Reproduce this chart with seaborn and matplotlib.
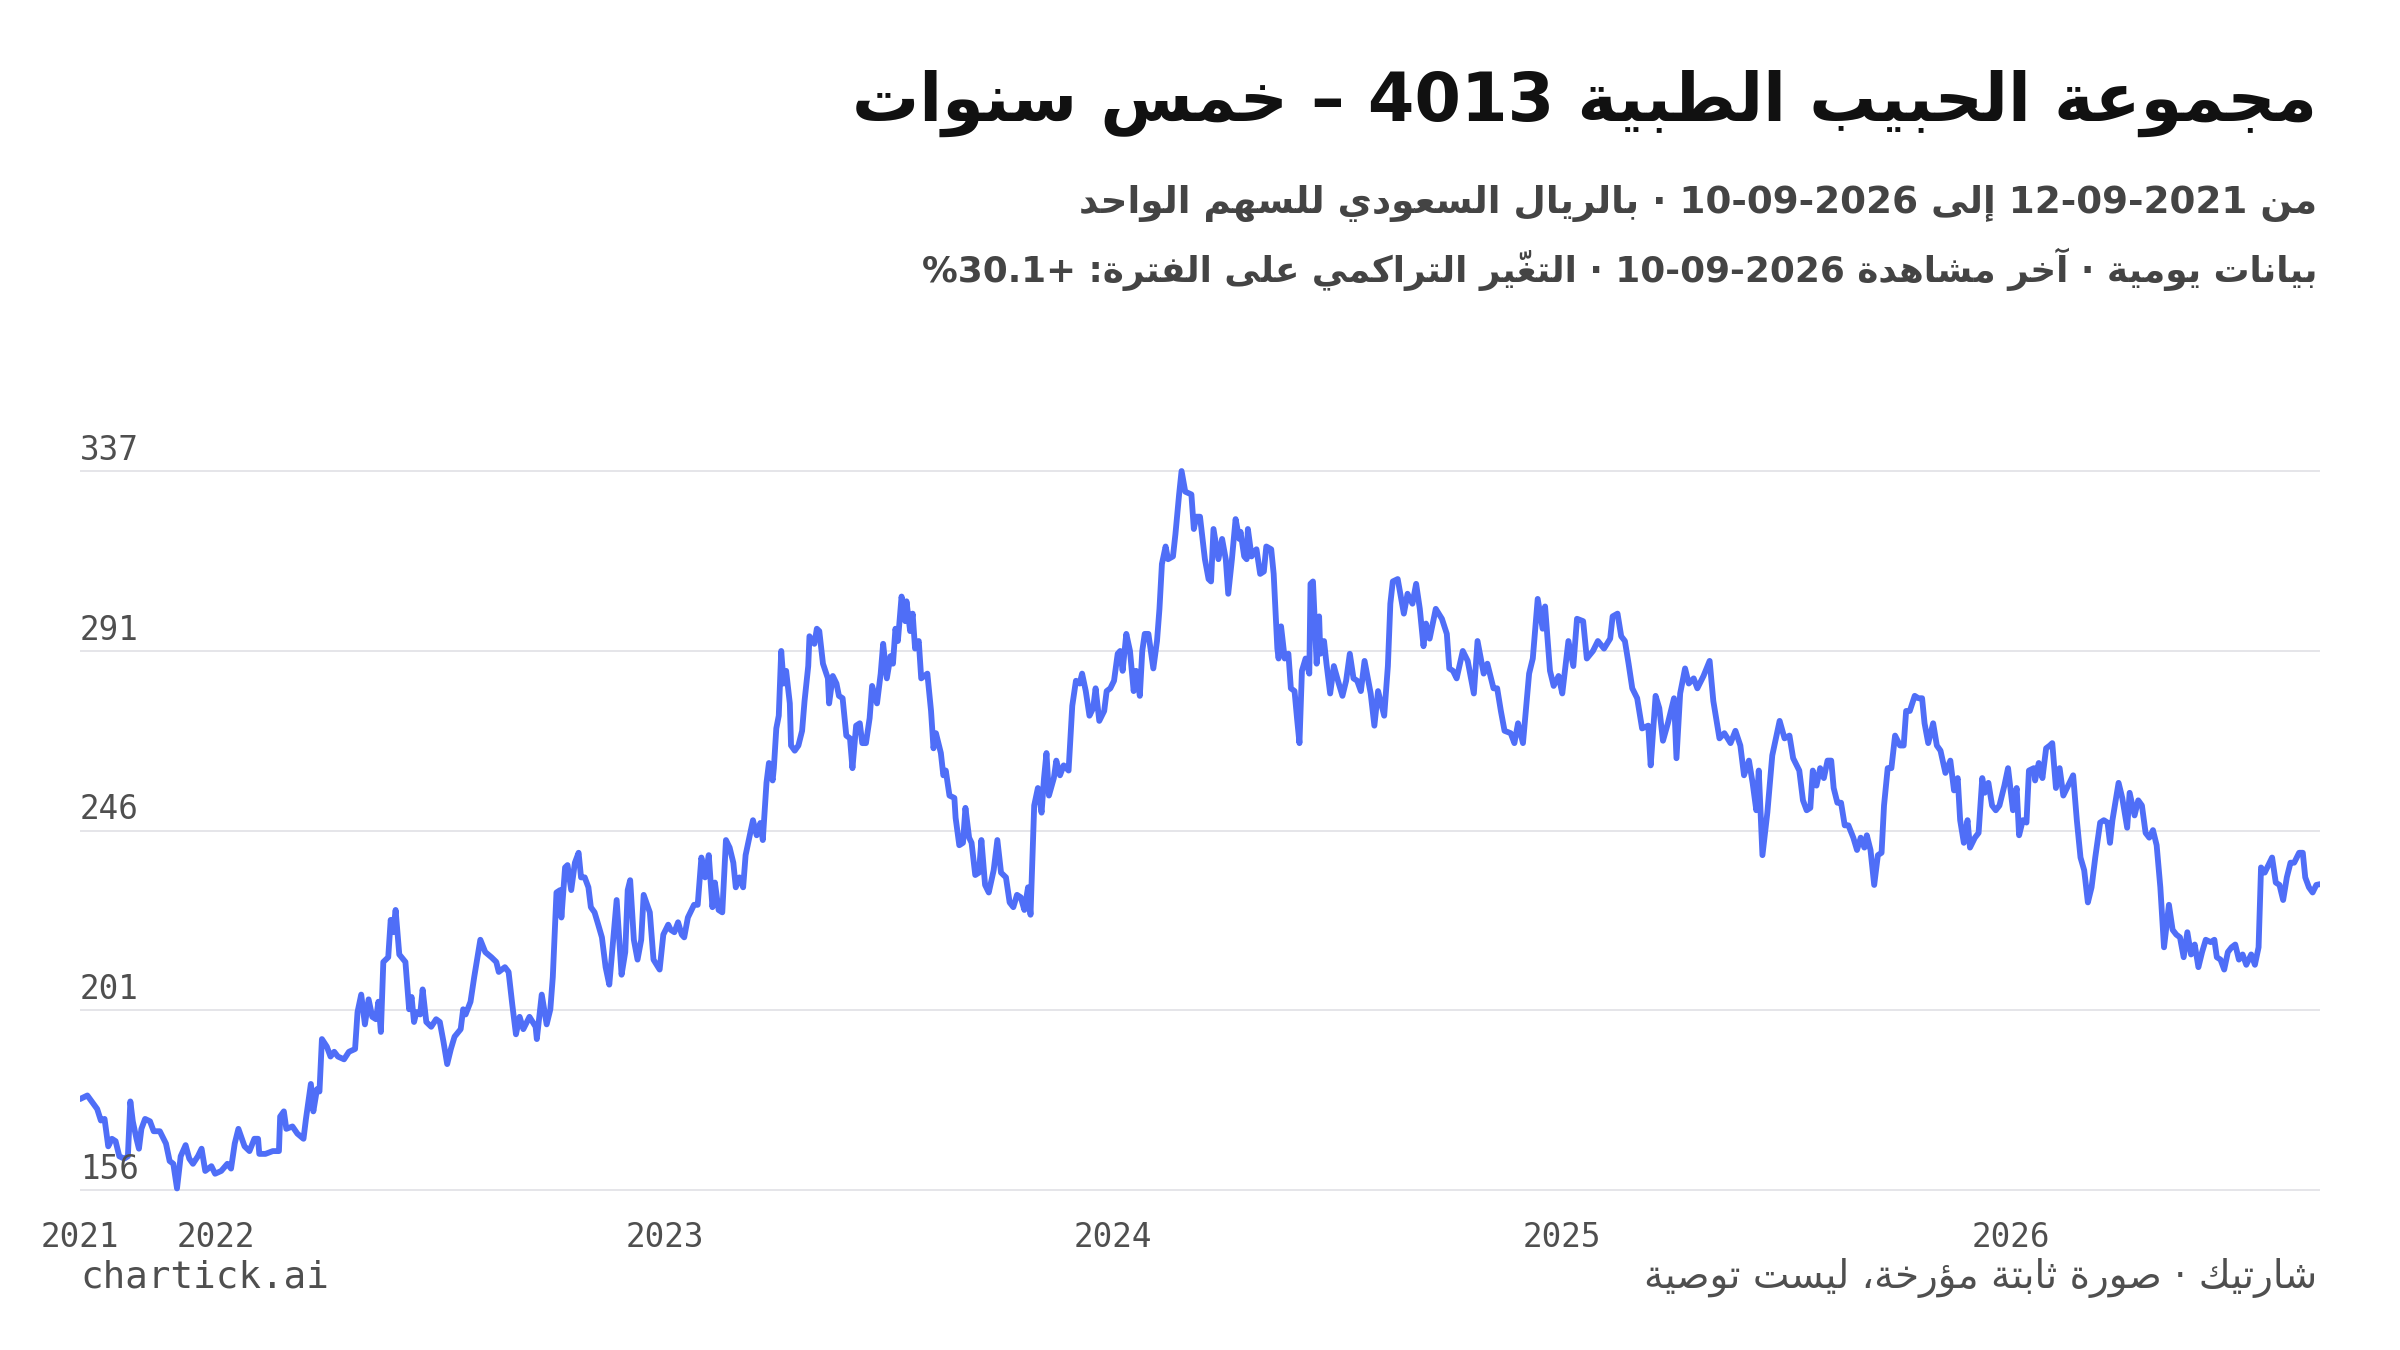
import numpy as np
import pandas as pd
import seaborn as sns
import matplotlib.pyplot as plt

# --- data (days after 2021-09-12, close in SAR) ---
start_date = "2021-09-12"
end_date = "2026-09-10"

day_offsets = [
    0, 6, 11, 14, 17, 20, 23, 26, 29, 32, 36, 39, 41, 43, 46, 48, 50, 53, 57, 60,
    65, 70, 73, 76, 79, 82, 86, 89, 92, 96, 99, 102, 107, 110, 115, 120, 123, 126, 129, 134,
    138, 142, 145, 146, 151, 157, 162, 163, 166, 168, 173, 177, 182, 184, 188, 190, 193, 195, 197, 201,
    204, 207, 210, 215, 219, 224, 226, 229, 232, 235, 238, 241, 243, 245, 247, 251, 253, 255, 257, 260,
    265, 268, 270, 272, 274, 277, 279, 282, 286, 290, 293, 296, 299, 302, 305, 310, 312, 314, 318, 321,
    326, 330, 335, 339, 341, 346, 349, 352, 355, 358, 361, 366, 371, 372, 376, 380, 383, 385, 388, 391,
    392, 395, 397, 400, 403, 406, 408, 411, 414, 416, 419, 422, 425, 428, 431, 434, 437, 441, 444, 446,
    448, 451, 454, 457, 459, 464, 467, 472, 475, 479,
    481, 484, 487, 490, 492, 495, 500, 503, 506, 509, 512, 515, 517, 520, 523, 526, 529, 532, 534, 537,
    540, 542, 545, 548, 551, 554, 556, 559, 561, 564, 565, 567, 569, 571, 573, 575, 578, 579, 582, 585,
    588, 590, 593, 594, 598, 600, 602, 605, 609, 610, 613, 616, 618, 621, 624, 627, 629, 632, 635, 637,
    640, 643, 645, 649, 652, 654, 657, 660, 662, 664, 666, 669, 672, 673, 676, 678, 680, 683, 685, 690,
    693, 695, 697, 701, 703, 705, 708, 712, 713, 716, 719, 721, 724, 726, 729, 732, 734, 737, 740, 744,
    747, 750, 754, 757, 760, 763, 766, 769, 772, 774, 777, 780, 783, 785, 787, 789, 793, 795, 798, 801,
    805, 808, 811, 814, 816, 819, 822, 825, 827, 830, 834, 836, 839, 842, 845, 847, 849, 852, 855, 858,
    860, 863, 865, 867, 870, 874, 877, 879, 881, 884, 886, 890, 892, 895, 897, 900, 905, 907, 909, 912,
    916, 919, 921, 923, 927, 930, 933, 935, 938, 941, 944,
    945, 948, 950, 951, 954, 956, 958, 961, 964, 966, 970, 972, 975, 976, 978, 981, 984, 986, 989, 991,
    993, 995, 998, 1001, 1002, 1004, 1007, 1009, 1010, 1013, 1015, 1018, 1021, 1025, 1028, 1031, 1034, 1037, 1040, 1043,
    1046, 1051, 1054, 1057, 1062, 1065, 1067, 1069, 1073, 1078, 1081, 1085, 1088, 1091, 1094, 1096, 1099, 1104, 1109, 1113,
    1115, 1118, 1121, 1126, 1130, 1135, 1138, 1143, 1146, 1151, 1154, 1157, 1160, 1165, 1168, 1171, 1175, 1177, 1180, 1183,
    1187, 1191, 1193, 1197, 1200, 1204, 1207, 1212, 1216, 1219, 1224, 1227, 1232, 1236, 1241, 1246, 1248, 1252, 1255, 1258,
    1261, 1264, 1268, 1272, 1277, 1279, 1283, 1286, 1289, 1293, 1298, 1300, 1303, 1307, 1310, 1314, 1317, 1322, 1327, 1330,
    1335, 1339, 1344, 1348, 1352, 1355, 1359, 1362, 1365, 1367, 1370, 1374, 1378, 1381, 1384, 1388, 1392, 1395, 1400, 1403,
    1406,
    1409, 1411, 1414, 1417, 1420, 1423, 1426, 1428, 1431, 1434, 1437, 1440, 1444, 1447, 1450, 1453, 1455, 1458, 1461, 1464,
    1467, 1469, 1472, 1475, 1478, 1482, 1485, 1487, 1490, 1494, 1497, 1500, 1502, 1505, 1509, 1512, 1515, 1519, 1523, 1526,
    1529, 1531, 1534, 1537, 1539, 1543, 1546, 1549, 1551, 1554, 1557, 1560, 1563, 1567, 1570, 1573, 1574, 1577, 1579, 1582,
    1585, 1587, 1591, 1592, 1595, 1598, 1601, 1604, 1606, 1609, 1612, 1615, 1618, 1623, 1626, 1629, 1632, 1635, 1638, 1641,
    1645, 1648, 1651, 1653, 1655, 1658, 1660, 1663, 1667, 1669, 1673, 1676, 1679, 1682, 1685, 1688, 1691, 1694, 1697, 1701,
    1704, 1707, 1710, 1713, 1716, 1719, 1722, 1725, 1728, 1731, 1735, 1738, 1740, 1743, 1746, 1749, 1752, 1755, 1758, 1761,
    1764, 1768, 1771, 1774, 1776, 1779, 1783, 1785, 1788, 1791, 1794, 1797, 1800, 1803, 1807, 1810, 1812, 1815, 1818, 1821,
    1824,
]

close_sar = [
    178.9, 179.8, 177.7, 176.4, 173.5, 173.9, 167.0, 168.9, 168.3, 164.5, 163.9, 164.5, 178.3, 173.3, 168.9, 166.4, 171.4, 173.9, 173.3, 170.8,
    170.8, 167.7, 163.3, 162.6, 156.4, 164.5, 167.3, 163.9, 162.6, 164.5, 166.4, 160.8, 162.0, 160.1, 160.8, 162.6, 161.4, 167.7, 171.4, 167.0,
    165.8, 168.9, 168.9, 165.1, 165.1, 165.8, 165.8, 174.5, 175.8, 171.4, 172.0, 170.2, 168.9, 173.9, 182.7, 175.8, 181.4, 180.8, 194.0, 192.1,
    189.6, 190.8, 189.6, 188.9, 190.8, 191.5, 200.8, 205.2, 197.7, 204.0, 199.6, 199.0, 203.4, 195.8, 213.4, 214.6, 224.0, 220.9, 226.5, 215.3,
    213.4, 201.5, 204.6, 198.3, 200.8, 200.2, 206.5, 198.3, 197.1, 199.0, 198.3, 193.3, 187.7, 191.5, 194.6, 196.5, 201.5, 200.2, 203.4, 209.6,
    219.0, 215.9, 214.6, 213.4, 210.9, 212.1, 210.9, 202.7, 195.2, 199.6, 196.5, 199.6, 197.1, 194.0, 205.2, 197.7, 201.5, 209.6, 230.9, 231.5,
    224.6, 237.2, 237.8, 231.5, 238.4, 240.9, 234.7, 234.7, 232.2, 227.2, 225.9, 222.8, 219.6, 212.1, 207.7, 218.4, 229.0, 210.2, 215.9, 231.5,
    234.0, 219.0, 214.0, 219.0, 230.3, 225.9, 214.0, 211.5, 220.3, 222.8,
    221.5, 220.9, 223.4, 220.3, 219.6, 224.6, 227.8, 227.8, 239.7, 234.7, 240.3, 227.2, 233.4, 226.5, 225.9, 244.1, 242.2, 238.4, 232.2, 234.7,
    232.2, 240.3, 244.7, 249.1, 245.3, 248.4, 244.1, 258.5, 263.5, 259.1, 262.2, 272.2, 275.4, 291.7, 283.5, 286.7, 278.5, 267.9, 266.6, 267.9,
    271.6, 279.1, 287.9, 295.4, 293.5, 297.3, 296.7, 288.5, 284.8, 278.5, 285.4, 283.5, 280.4, 279.8, 270.4, 269.7, 262.2, 272.9, 273.5, 268.5,
    268.5, 274.8, 282.9, 278.5, 286.0, 293.5, 284.8, 290.4, 288.5, 297.3, 294.2, 305.4, 299.2, 304.2, 296.7, 301.1, 292.3, 294.2, 284.8, 286.0,
    276.6, 267.2, 271.0, 266.0, 260.4, 261.6, 255.3, 254.7, 249.7, 242.8, 243.4, 252.2, 244.7, 243.4, 235.3, 235.9, 244.1, 232.8, 230.9, 236.5,
    244.1, 235.9, 234.7, 228.4, 227.2, 230.3, 229.7, 226.5, 232.2, 225.3, 252.8, 257.2, 251.0, 259.7, 266.0, 255.3, 259.7, 264.1, 260.4, 262.9,
    261.6, 277.9, 284.2, 283.5, 286.0, 281.6, 275.4, 277.3, 282.3, 274.1, 276.6, 281.6, 282.3, 284.2, 291.0, 291.7, 286.7, 296.0, 291.7, 281.6,
    286.7, 280.4, 291.7, 296.0, 296.0, 287.3, 294.2, 302.3, 313.6, 318.0, 314.8, 315.5, 321.1, 331.1, 337.0, 331.8, 331.1, 322.4, 325.5, 325.5,
    314.8, 309.8, 309.2, 322.4, 314.8, 319.9, 314.8, 306.1, 314.8, 324.9, 319.9,
    321.7, 315.5, 314.8, 322.4, 315.5, 316.7, 317.3, 311.1, 311.7, 318.0, 317.3, 311.1, 292.3, 289.8, 297.9, 289.8, 291.0, 282.3, 281.6, 274.8,
    268.5, 286.7, 289.8, 286.0, 308.6, 309.2, 288.5, 300.4, 291.0, 294.2, 288.5, 281.0, 287.9, 283.5, 280.4, 284.2, 291.0, 284.8, 284.2, 281.6,
    289.2, 281.0, 272.9, 281.6, 275.4, 287.9, 303.6, 309.2, 309.8, 301.1, 306.1, 303.6, 308.6, 302.3, 292.9, 298.6, 294.8, 302.3, 299.8, 296.0,
    287.3, 286.7, 284.8, 291.7, 289.2, 281.0, 294.2, 286.0, 288.5, 282.3, 282.3, 276.6, 271.6, 271.0, 268.5, 273.5, 268.5, 275.4, 286.0, 289.8,
    304.8, 297.3, 302.9, 286.7, 282.9, 285.4, 281.0, 294.2, 287.9, 299.8, 299.2, 289.8, 291.7, 294.2, 292.3, 294.8, 300.4, 301.1, 295.4, 294.2,
    288.5, 282.3, 279.8, 272.2, 272.9, 262.9, 280.4, 277.3, 269.1, 273.5, 279.8, 264.7, 281.0, 287.3, 283.5, 284.8, 282.3, 285.4, 289.2, 279.1,
    269.7, 271.0, 268.5, 271.6, 267.9, 260.4, 264.1, 258.5, 251.6, 261.6, 240.3, 251.0, 265.4, 269.7, 274.1, 269.7, 270.4, 264.7, 261.6, 254.1,
    251.6,
    252.2, 261.6, 257.8, 262.2, 259.7, 264.1, 264.1, 257.2, 253.5, 253.5, 247.8, 247.8, 244.7, 241.6, 244.7, 242.2, 245.3, 241.6, 232.8, 240.3,
    240.9, 252.8, 262.2, 262.2, 270.4, 267.9, 267.9, 276.6, 276.6, 280.4, 279.8, 279.8, 273.5, 268.5, 273.5, 267.9, 266.6, 261.0, 264.1, 256.6,
    259.7, 249.1, 243.4, 249.1, 242.2, 244.7, 245.9, 259.7, 256.0, 258.5, 252.8, 251.6, 252.8, 257.8, 262.2, 254.1, 251.6, 257.2, 245.3, 249.1,
    248.5, 261.6, 262.2, 259.1, 263.5, 259.7, 267.2, 267.9, 268.5, 257.2, 262.2, 255.3, 257.2, 260.4, 249.1, 239.7, 236.5, 228.4, 232.2, 239.7,
    248.5, 249.1, 248.5, 243.4, 249.1, 254.7, 258.5, 254.7, 247.2, 256.0, 250.3, 254.1, 252.8, 245.9, 244.7, 246.6, 242.8, 232.2, 217.1, 227.8,
    221.5, 220.3, 219.6, 214.6, 220.9, 215.3, 217.8, 212.1, 215.9, 219.0, 218.4, 219.0, 214.6, 214.0, 211.5, 215.9, 217.1, 217.8, 214.0, 215.3,
    212.7, 215.3, 212.7, 217.1, 237.2, 235.9, 238.4, 239.7, 233.4, 232.8, 229.0, 234.7, 238.4, 238.4, 240.9, 240.9, 234.7, 232.2, 230.9, 232.8,
    233.0,
]

year_tick_dates = ["2021-09-12", "2022-01-01", "2023-01-01", "2024-01-01", "2025-01-01", "2026-01-01"]
year_tick_labels = ["2021", "2022", "2023", "2024", "2025", "2026"]
price_ticks = np.linspace(156, 337, 5)
price_tick_labels = ["156", "201", "246", "291", "337"]

title_text = "مجموعة الحبيب الطبية 4013 – خمس سنوات"
subtitle_1 = "من 12-09-2021 إلى 10-09-2026 · بالريال السعودي للسهم الواحد"
subtitle_2 = "بيانات يومية · آخر مشاهدة 10-09-2026 · التغيّر التراكمي على الفترة: %30.1+"
footer_left = "chartick.ai"
footer_right = "شارتيك · صورة ثابتة مؤرخة، ليست توصية"

# --- tiny arabic shaping (matplotlib draws text left to right, unshaped) ---
AR_LETTERS = "ءآأؤإئابةتثجحخدذرزسشصضطظعغفقكلمنهوىي"
AR_NFORMS = [1, 2, 2, 2, 2, 4, 2, 4, 2, 4, 4, 4, 4, 4, 2, 2, 2, 2, 4, 4,
             4, 4, 4, 4, 4, 4, 4, 4, 4, 4, 4, 4, 4, 2, 2, 4]
FORMS = {}
_cp = 0xFE80
for ch, n in zip(AR_LETTERS, AR_NFORMS):
    FORMS[ch] = [chr(_cp + k) for k in range(n)]
    _cp += n
LAM_ALEF = {"آ": 0xFEF5, "أ": 0xFEF7, "إ": 0xFEF9, "ا": 0xFEFB}


def is_mark(c):
    return 0x064B <= ord(c) <= 0x065F or ord(c) == 0x0670


def join_type(unit):
    kind, c = unit
    if kind == "LA":
        return "R"
    if is_mark(c):
        return "T"
    n = len(FORMS.get(c, []))
    return {4: "D", 2: "R"}.get(n, "U")


def shape_word(word):
    units, i = [], 0
    while i < len(word):
        if word[i] == "ل" and i + 1 < len(word) and word[i + 1] in LAM_ALEF:
            units.append(("LA", word[i + 1]))
            i += 2
        else:
            units.append(("C", word[i]))
            i += 1
    types = [join_type(u) for u in units]
    clusters = []
    for k, (kind, c) in enumerate(units):
        t = types[k]
        if t == "T":
            if clusters:
                clusters[-1] += c
            else:
                clusters.append(c)
            continue
        prev_t = next((types[j] for j in range(k - 1, -1, -1) if types[j] != "T"), "U")
        next_t = next((types[j] for j in range(k + 1, len(units)) if types[j] != "T"), "U")
        jp = prev_t == "D" and t in ("D", "R")
        jn = t == "D" and next_t in ("D", "R")
        if kind == "LA":
            g = chr(LAM_ALEF[c] + (1 if jp else 0))
        elif c in FORMS:
            f = FORMS[c]
            idx = 3 if (jp and jn) else 1 if jp else 2 if jn else 0
            g = f[idx] if idx < len(f) else f[0]
        else:
            g = c
        clusters.append(g)
    return "".join(reversed(clusters))


def rtl(text):
    out = []
    for tok in text.split(" "):
        if any("\u0600" <= c <= "\u06FF" for c in tok):
            out.append(shape_word(tok))
        else:
            out.append(tok)
    return " ".join(reversed(out))


# --- figure ---
sns.set_theme(style="white")
plt.rcParams["font.family"] = ["DejaVu Sans"]

df = pd.DataFrame({
    "date": pd.Timestamp(start_date) + pd.to_timedelta(day_offsets, unit="D"),
    "close": close_sar,
})

fig = plt.figure(figsize=(24, 13.5), dpi=100)
ax = fig.add_axes([0.03333, 0.10673, 0.93333, 0.55614])

sns.lineplot(data=df, x="date", y="close", ax=ax, color="#4f6ef7",
             linewidth=4.2, solid_joinstyle="round")

ax.set_xlim(pd.Timestamp(start_date), pd.Timestamp(end_date))
ax.set_ylim(152, 341)
ax.set_xlabel("")
ax.set_ylabel("")
for s in ax.spines.values():
    s.set_visible(False)

ax.set_yticks(price_ticks)
ax.tick_params(axis="y", length=0, labelleft=False)
ax.yaxis.grid(True, color="#e5e5e9", linewidth=1.4)
ax.xaxis.grid(False)

ax.set_xticks(pd.to_datetime(year_tick_dates))
ax.set_xticklabels(year_tick_labels, fontfamily="DejaVu Sans Mono",
                   fontsize=23.5, color="#4f4f4f")
ax.tick_params(axis="x", length=0, pad=11)

for v, lab in zip(price_ticks, price_tick_labels):
    ax.annotate(lab, xy=(0, v), xycoords=("axes fraction", "data"),
                xytext=(0, 8), textcoords="offset points", va="baseline",
                ha="left", fontfamily="DejaVu Sans Mono", fontsize=23.5,
                color="#4f4f4f")

right_x = 2317 / 2400
t_title = fig.text(right_x, 1 - 121 / 1350, rtl(title_text), ha="right",
                   va="baseline", fontsize=46, fontweight="bold", color="#111111")
t_sub1 = fig.text(right_x, 1 - 213 / 1350, rtl(subtitle_1), ha="right",
                  va="baseline", fontsize=26, fontweight="bold", color="#444444")
t_sub2 = fig.text(right_x, 1 - 282 / 1350, rtl(subtitle_2), ha="right",
                  va="baseline", fontsize=26, fontweight="bold", color="#444444")
fig.text(80 / 2400, 1 - 1287 / 1350, footer_left, ha="left", va="baseline",
         fontfamily="DejaVu Sans Mono", fontsize=27, color="#4f4f4f")
t_foot = fig.text(right_x, 1 - 1288 / 1350, rtl(footer_right), ha="right",
                  va="baseline", fontsize=24, color="#4f4f4f")

# scale the arabic lines to the widths they take in the reference
renderer = fig.canvas.get_renderer()
for t, target in [(t_title, 1464), (t_sub1, 1241), (t_sub2, 1398), (t_foot, 676)]:
    w = t.get_window_extent(renderer).width
    t.set_fontsize(t.get_fontsize() * target / w)

fig.savefig("out.png", dpi=100, facecolor="white")
